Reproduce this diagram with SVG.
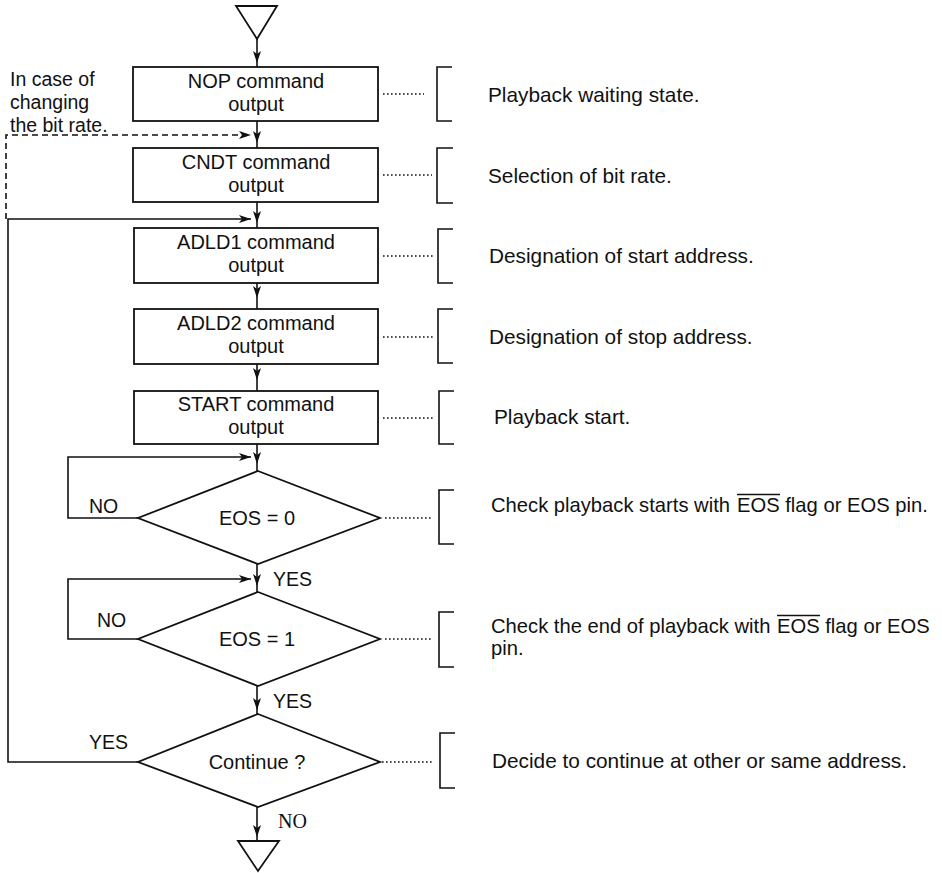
<svg xmlns="http://www.w3.org/2000/svg" width="942" height="873" viewBox="0 0 942 873">
<style>
.s{fill:#fff;stroke:#111;stroke-width:1.8}
.c{fill:none;stroke:#111;stroke-width:1.6}
.d{fill:none;stroke:#111;stroke-width:1.6;stroke-dasharray:6 4}
.dot{fill:none;stroke:#111;stroke-width:1.6;stroke-dasharray:1.6 2.4}
.b{fill:none;stroke:#111;stroke-width:1.6}
.ov{fill:none;stroke:#111;stroke-width:1.3}
text{font-family:"Liberation Sans",Arial,sans-serif;fill:#111}
.t{font-size:20px;text-anchor:middle}
.r{font-size:20.8px}
.r2{font-size:20.2px}
.l{font-size:19.5px}
</style>
<defs>
<marker id="ah" viewBox="0 0 12 8" refX="12" refY="4" markerWidth="12" markerHeight="8" markerUnits="userSpaceOnUse" orient="auto">
<path d="M0,0 L12,4 L0,8 L3,4 Z" fill="#111"/>
</marker>
</defs>
<g id="connectors">
<path class="c" d="M257,39 V63 V67" marker-mid="url(#ah)"/>
<path class="c" d="M257,121 V143 V148" marker-mid="url(#ah)"/>
<path class="d" d="M6,219 V135 H251" marker-end="url(#ah)"/>
<path class="c" d="M257,202 V223 V228" marker-mid="url(#ah)"/>
<path class="c" d="M257,283 V298 V309" marker-mid="url(#ah)"/>
<path class="c" d="M257,364 V380 V391" marker-mid="url(#ah)"/>
<path class="c" d="M257,444 V464 V471" marker-mid="url(#ah)"/>
<path class="c" d="M138,518 H68 V457 H251" marker-end="url(#ah)"/>
<path class="c" d="M257,564 V586 V592" marker-mid="url(#ah)"/>
<path class="c" d="M138,639 H68 V579 H251" marker-end="url(#ah)"/>
<path class="c" d="M257,686 V710 V714" marker-mid="url(#ah)"/>
<path class="c" d="M138,762 H8 V219 H251" marker-end="url(#ah)"/>
<path class="c" d="M257,807 V837 V841" marker-mid="url(#ah)"/>
<path class="dot" d="M383,94 H424"/>
<path class="dot" d="M383,175 H432"/>
<path class="dot" d="M383,256 H433"/>
<path class="dot" d="M383,337 H433"/>
<path class="dot" d="M383,418 H433"/>
<path class="dot" d="M385,518 H432"/>
<path class="dot" d="M385,639 H432"/>
<path class="dot" d="M382,762 H434"/>
</g>
<g id="start">
<polygon class="s" points="236,6 277,6 257,39"/>
</g>
<g id="nop">
<rect class="s" x="133" y="67" width="245" height="54"/>
<text class="t" x="256" y="88">NOP command<tspan x="256" dy="22.5">output</tspan></text>
</g>
<g id="cndt">
<rect class="s" x="133" y="148" width="245" height="54"/>
<text class="t" x="256" y="169">CNDT command<tspan x="256" dy="22.5">output</tspan></text>
</g>
<g id="adld1">
<rect class="s" x="134" y="228" width="244" height="55"/>
<text class="t" x="256" y="249">ADLD1 command<tspan x="256" dy="22.5">output</tspan></text>
</g>
<g id="adld2">
<rect class="s" x="134" y="309" width="244" height="55"/>
<text class="t" x="256" y="330">ADLD2 command<tspan x="256" dy="22.5">output</tspan></text>
</g>
<g id="start-cmd">
<rect class="s" x="134" y="391" width="244" height="53"/>
<text class="t" x="256" y="411">START command<tspan x="256" dy="22.5">output</tspan></text>
</g>
<g id="eos0">
<polygon class="s" points="258,471 380,518 258,564 138,518"/>
<text class="t" x="257" y="525">EOS = 0</text>
</g>
<g id="eos1">
<polygon class="s" points="258,592 380,639 258,686 138,639"/>
<text class="t" x="257" y="646">EOS = 1</text>
</g>
<g id="continue">
<polygon class="s" points="258,714 380,762 258,807 138,762"/>
<text class="t" x="257" y="769">Continue ?</text>
</g>
<g id="end">
<polygon class="s" points="238,841 279,841 258,871"/>
</g>
<g id="labels">
<text class="l" x="10" y="86">In case of<tspan x="10" dy="23">changing</tspan><tspan x="10" dy="23">the bit rate.</tspan></text>
<text class="l" x="89" y="513">NO</text>
<text class="l" x="273" y="586">YES</text>
<text class="l" x="97" y="627">NO</text>
<text class="l" x="273" y="708">YES</text>
<text class="l" x="89" y="749">YES</text>
<text x="278" y="828" style="font-family:'Liberation Serif',serif;font-size:20px">NO</text>
</g>
<g id="notes">
<path class="b" d="M452,67 H437 V121 H452"/>
<path class="b" d="M453,148 H437 V203 H453"/>
<path class="b" d="M453,229 H438 V283 H453"/>
<path class="b" d="M453,309 H438 V363 H453"/>
<path class="b" d="M454,391 H439 V444 H454"/>
<path class="b" d="M454,490 H439 V544 H454"/>
<path class="b" d="M454,612 H439 V667 H454"/>
<path class="b" d="M455,733 H440 V788 H455"/>
<text class="r" x="488" y="102">Playback waiting state.</text>
<text class="r" x="488" y="183">Selection of bit rate.</text>
<text class="r" x="489" y="263">Designation of start address.</text>
<text class="r" x="489" y="344">Designation of stop address.</text>
<text class="r" x="494" y="424">Playback start.</text>
<text class="r2" x="491" y="512">Check playback starts with <tspan x="737">EOS</tspan> flag or EOS pin.</text>
<path class="ov" d="M737,494.5 H780"/>
<text class="r2" x="491" y="633">Check the end of playback with <tspan x="777">EOS</tspan> flag or EOS<tspan x="491" dy="22">pin.</tspan></text>
<path class="ov" d="M777,615.5 H820"/>
<text class="r" x="492" y="768">Decide to continue at other or same address.</text>
</g>
</svg>
